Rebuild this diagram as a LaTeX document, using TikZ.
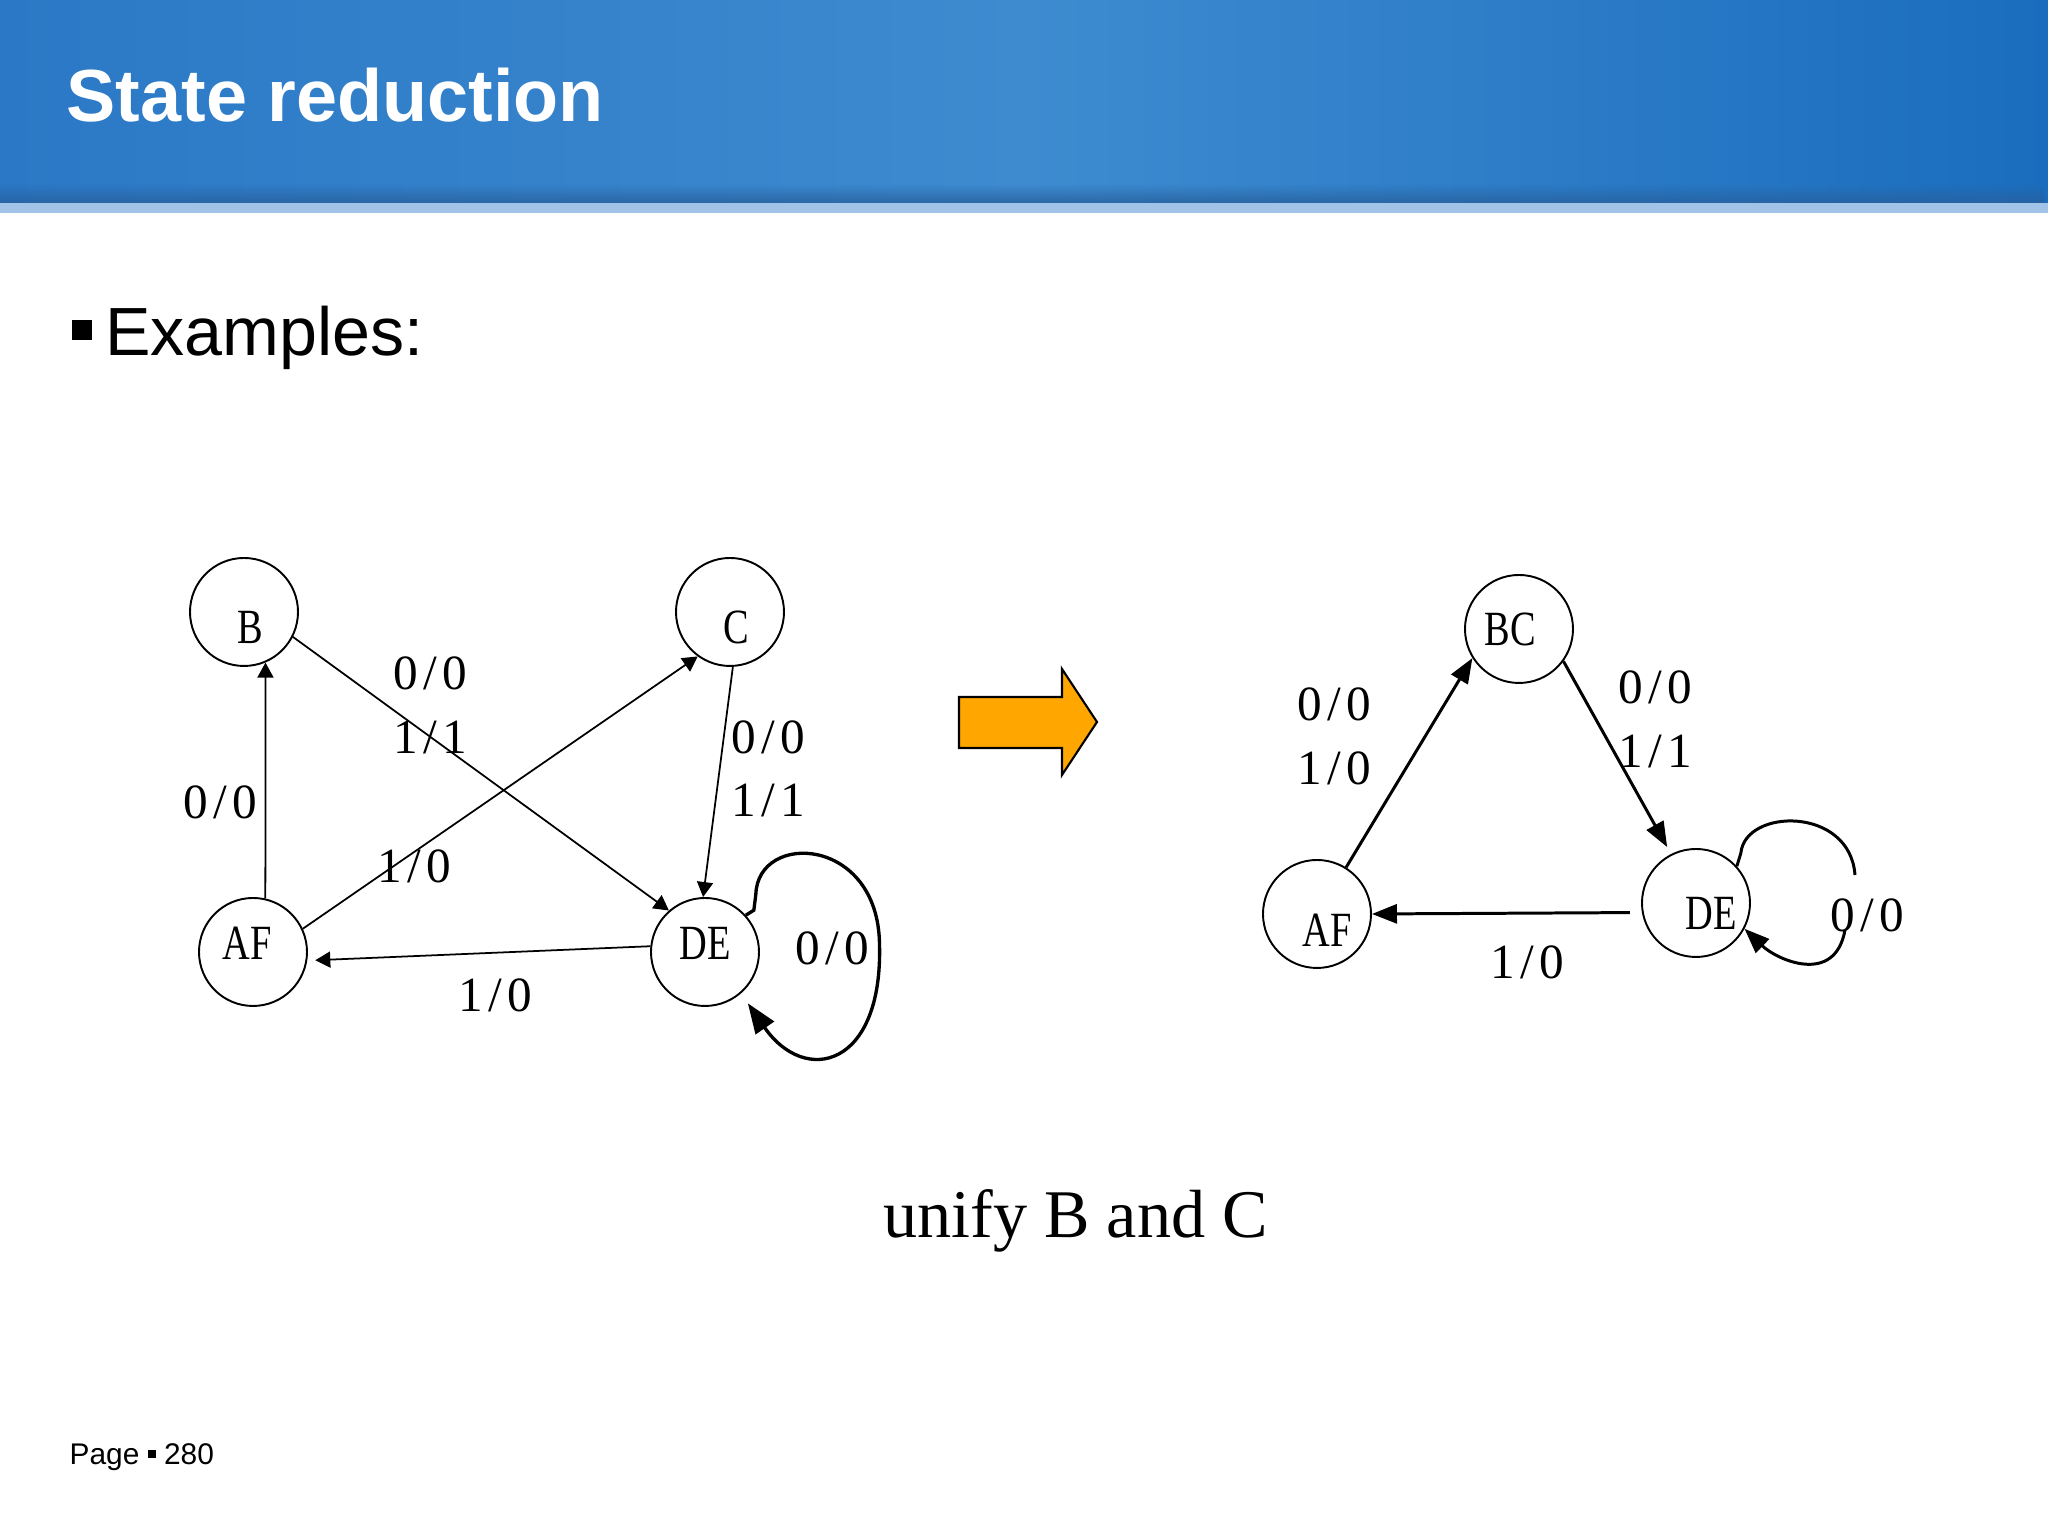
\documentclass[tikz,border=0pt]{standalone}
\usepackage{fontspec}
\setmainfont{Liberation Serif}
\setsansfont{Liberation Sans}
\usepackage{graphicx}
\usetikzlibrary{arrows.meta,fadings}

\definecolor{hdrL}{RGB}{43,120,198}
\definecolor{hdrM}{RGB}{62,139,208}
\definecolor{hdrR}{RGB}{26,109,190}
\definecolor{hdrD}{RGB}{40,96,156}
\definecolor{strip}{RGB}{160,195,231}
\definecolor{goarrow}{RGB}{255,166,0}

% narrow letters and half-width transition labels
\newcommand\st[1]{\scalebox{0.78}[1]{#1}}
\newcommand\io[2]{\makebox[.5em]{#1}\makebox[.5em]{/}\makebox[.5em]{#2}}

\begin{document}
\begin{tikzpicture}[>={Triangle[length=1.5mm, width=1.6mm]}, font=\fontsize{14}{18}\selectfont]

% Styles
\tikzstyle{state} = [draw, circle, minimum size=1.08cm, inner sep=0pt, line width=0.55pt]
\tikzstyle{thin edge} = [->, line width=0.5pt]
\tikzstyle{bold edge} = [->, >={Triangle[length=2.5mm, width=1.9mm]}, line width=0.85pt]
\tikzstyle{loop edge} = [->, >={Triangle[length=3mm, width=2.2mm]}, line width=0.95pt]

\useasboundingbox (0,0) rectangle (20.48,15.36);

% Slide header
\shade[left color=hdrL, right color=hdrR, middle color=hdrM] (0,13.33) rectangle (20.48,15.36);
\fill[hdrD, path fading=north, opacity=0.8] (0,13.33) rectangle (20.48,13.52);
\fill[strip] (0,13.23) rectangle (20.48,13.33);
\node[anchor=base west, inner sep=0pt, text=white, font=\sffamily\bfseries\fontsize{21}{25}\selectfont] (title) at (0.66,14.14) {State reduction};
\node[anchor=base west, inner sep=0pt, font=\sffamily\fontsize{19.4}{23}\selectfont] (examples) at (0.717,11.80) {\raisebox{0.16cm}{\rule{0.2cm}{0.2cm}}\hspace{0.13cm}Examples:};

% Nodes - original machine
\node[state, label={[shift={(-0.06,0.09)}]center:\st{AF}}] (af) at (2.53,5.84) {};
\node[state, above of=af, node distance=3.4cm, xshift=-0.09cm, label={[shift={(0.06,-0.15)}]center:\st{B}}] (b) {};
\node[state, right of=b, node distance=4.86cm, label={[shift={(0.065,-0.15)}]center:\st{C}}] (c) {};
\node[state, right of=af, node distance=4.52cm, label={[yshift=0.09cm]center:\st{DE}}] (de) {};

% Connections - original machine
\draw[thin edge] (af.77) -- (b.-67);
\draw[thin edge] (b.-27) -- (de.131);
\draw[thin edge] (af.25) -- (c.-126);
\draw[thin edge] (c.-87) -- (de.92);
\draw[thin edge, shorten >=0.08cm] (de.174) -- (af.-9);
\draw[loop edge, shorten >=0.12cm] (de.42) -- ++(0.08,0.05) -- ++(0.02,0.16) .. controls (7.58,7.05) and (8.78,7.0) .. (8.795,5.92) .. controls (8.83,4.68) and (8.05,4.5) .. (de.-49);

% Labels - original machine
\node (l-ab) at (2.20,7.34) {\io00};
\node[align=center] (l-bde) at (4.30,8.305) {\io00\\\io11};
\node (l-ac) at (4.14,6.70) {\io10};
\node[align=center] (l-cde) at (7.68,7.668) {\io00\\\io11};
\node (l-dea) at (4.95,5.405) {\io10};
\node (l-dede) at (8.32,5.88) {\io00};

% Arrow
\filldraw[fill=goarrow, line width=0.6pt] (9.59,7.88) -- (10.62,7.88) -- (10.62,7.61) -- (10.97,8.14) -- (10.62,8.67) -- (10.62,8.39) -- (9.59,8.39) -- cycle;

% Nodes - reduced machine
\node[state, label={[xshift=-0.09cm]center:\st{BC}}] (bc) at (15.19,9.07) {};
\node[state, below of=bc, node distance=2.85cm, xshift=-2.02cm, label={[shift={(0.1,-0.16)}]center:\st{AF}}] (af2) {};
\node[state, right of=af2, node distance=3.79cm, yshift=0.11cm, label={[shift={(0.15,-0.1)}]center:\st{DE}}] (de2) {};
\coordinate (de2-top) at (18.55,6.61);
\coordinate (de2-bot) at (18.45,6.06);

% Connections - reduced machine
\draw[bold edge] (af2.58) -- (bc.-148);
\draw[bold edge, shorten >=0.08cm] (bc.-36) -- (de2.117);
\draw[bold edge, shorten <=0.12cm] (de2.190) -- (af2.0);
\draw[line width=0.85pt] (de2.42) -- ++(0.04,0.13) .. controls (17.45,7.28) and (18.5,7.3) .. (de2-top);
\draw[bold edge] (de2-bot) .. controls (18.35,5.5) and (17.77,5.76) .. (de2.-28);

% Labels - reduced machine
\node[align=center] (l-abc) at (13.34,7.995) {\io00\\\io10};
\node[align=center] (l-bcde) at (16.55,8.165) {\io00\\\io11};
\node (l-dea2) at (15.27,5.74) {\io10};
\node (l-dede2) at (18.67,6.21) {\io00};

% Caption and footer
\node[anchor=base, inner sep=0pt, font=\fontsize{19.4}{23}\selectfont] (caption) at (10.756,2.98) {unify B and C};
\node[anchor=base west, inner sep=0pt, font=\sffamily\fontsize{8.5}{10}\selectfont] (page) at (0.69,0.71) {Page \raisebox{0.07cm}{\rule{0.08cm}{0.08cm}} 280};

\end{tikzpicture}
\end{document}
